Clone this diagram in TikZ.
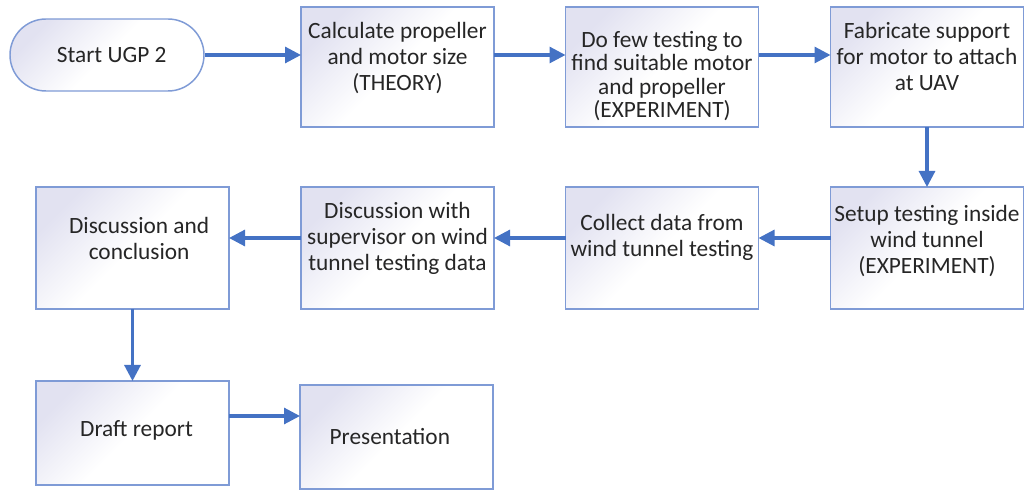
\documentclass[tikz,border=0pt]{standalone}
\usepackage{fontspec}
\setmainfont{Carlito}
\usetikzlibrary{arrows.meta,shapes.misc}

\definecolor{edge}{HTML}{7F9BD6}
\definecolor{flow}{HTML}{4472C4}
\definecolor{lav}{HTML}{E2E2F1}

\begin{document}
\begin{tikzpicture}[x=0.75pt,y=-0.75pt,
    box/.style={draw=edge, line width=1.1pt, top color=lav, bottom color=white,
                middle color=white, shading angle=45,
                minimum width=144.75pt, minimum height=90pt,
                inner sep=0pt, outer sep=0pt},
    lowbox/.style={box, minimum height=78pt},
    txt/.style={align=center, font=\fontsize{17.5}{19.5}\selectfont, text=black!85},
    arr/.style={draw=flow, line width=2.3pt, -{Triangle[length=12pt,width=12pt]}}]
    \useasboundingbox (0,0) rectangle (1024,491);

    \node (start) at (107,55) [rounded rectangle, draw=edge, line width=1.1pt,
        top color=lav, bottom color=white, middle color=white, shading angle=45,
        minimum width=145.5pt, minimum height=54pt, inner sep=0pt,
        label={[txt,xshift=3.5pt]center:Start UGP 2}]{};

    \node (calc) at (397.5,67) [box,
        label={[txt,yshift=6.75pt]center:Calculate propeller\\and motor size\\(THEORY)}]{};
    \node (dofew) at (662,67) [box,
        label={[txt,font=\fontsize{17.5}{17.5}\selectfont,yshift=-6.75pt]center:Do few testing to\\find suitable motor\\and propeller\\(EXPERIMENT)}]{};
    \node (fab) at (927,67) [box,
        label={[txt,yshift=8pt]center:Fabricate support\\for motor to attach\\at UAV}]{};

    \node (setup) at (927,248) [box, minimum height=91.5pt,
        label={[txt,yshift=5pt]center:Setup testing inside\\wind tunnel\\(EXPERIMENT)}]{};
    \node (collect) at (662,248) [box, minimum height=91.5pt,
        label={[txt,yshift=8pt]center:Collect data from\\wind tunnel testing}]{};
    \node (discsup) at (397.5,248) [box, minimum height=91.5pt,
        label={[txt,yshift=7pt]center:Discussion with\\supervisor on wind\\tunnel testing data}]{};
    \node (disccon) at (132.5,248) [box, minimum height=91.5pt,
        label={[txt,yshift=7.5pt,xshift=5pt]center:Discussion and\\conclusion}]{};

    \node (draft) at (132.5,433) [lowbox,
        label={[txt,yshift=2pt,xshift=3pt]center:Draft report}]{};
    \node (pres) at (396.5,437) [lowbox,
        label={[txt,xshift=-5pt]center:Presentation}]{};

     \draw[arr] (start.east) -- (start.east -| calc.west);
     \draw[arr] (calc.east |- start.east) -- (start.east -| dofew.west);
     \draw[arr] (dofew.east |- start.east) -- (start.east -| fab.west);
     \draw[arr] (fab.south) -- (setup.north);

     \draw[arr] ([yshift=7.5pt]setup.west) -- ([yshift=7.5pt]collect.east);
     \draw[arr] ([yshift=7.5pt]collect.west) -- ([yshift=7.5pt]discsup.east);
     \draw[arr] ([yshift=7.5pt]discsup.west) -- ([yshift=7.5pt]disccon.east);
     \draw[arr] (disccon.south) -- (draft.north);

     \draw[arr] ([yshift=12.75pt]draft.east) -- ([yshift=12.75pt]draft.east -| pres.west);

\end{tikzpicture}
\end{document}
